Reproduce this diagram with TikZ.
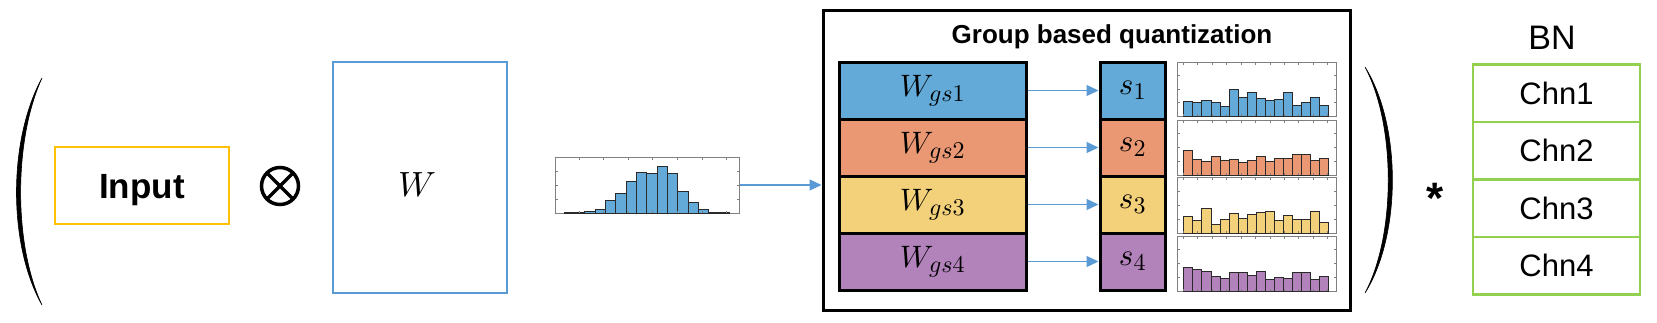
\documentclass[tikz,border=0pt]{standalone}
\usepackage[no-math]{fontspec}
\setmainfont{Liberation Sans}
\DeclareFontShape{OML}{cmm}{m}{it}{<->cmmi10}{}
\DeclareFontShape{OT1}{cmr}{m}{n}{<->cmr10}{}
\DeclareFontShape{OMS}{cmsy}{m}{n}{<->cmsy10}{}
\DeclareFontShape{OMX}{cmex}{m}{n}{<->cmex10}{}
\DeclareMathSizes{31}{31}{24}{18}
\usetikzlibrary{arrows.meta}
\definecolor{cblue}{HTML}{63AAD9}
\definecolor{corange}{HTML}{E99873}
\definecolor{cyellow}{HTML}{F3D07A}
\definecolor{cpurple}{HTML}{B282BA}
\definecolor{lineblue}{HTML}{5B9BD5}
\definecolor{inyellow}{HTML}{FFC000}
\definecolor{bngreen}{HTML}{92D050}
\definecolor{framegray}{HTML}{808080}
\definecolor{bardark}{HTML}{2A2A2A}
% #1 x of first bar, #2 bottom y, #3 bar width, #4 fill, #5 heights (x3)
\newcommand{\histbars}[5]{\foreach \h [count=\i from 0] in {#5} {\draw[barline, fill=#4] ({#1+\i*#3},#2) rectangle ++(#3,{-\h/3});}}
% #1 xl, #2 yt, #3 xr, #4 yb, #5 first tick x, #6 tick spacing, #7 last index
\newcommand{\histticks}[7]{%
 \foreach \k in {0,...,#7}{\draw[tickline] ({#5+\k*#6},#2) -- ++(0,2.5);\draw[tickline] ({#5+\k*#6},#4) -- ++(0,-2.5);}%
 \foreach \f in {0.25,0.5,0.75}{\draw[tickline] (#1,{#2+\f*(#4-#2)}) -- ++(2.5,0);\draw[tickline] (#3,{#2+\f*(#4-#2)}) -- ++(-2.5,0);}}
\tikzset{
 barline/.style={draw=bardark, line width=0.8pt},
 tickline/.style={draw=framegray, line width=0.7pt},
 histframe/.style={draw=framegray, line width=1pt, inner sep=0pt, minimum width=#1},
 arr/.style={draw=lineblue, line width=1.2pt, -{Triangle[length=12pt,width=11pt]}},
 rowbox/.style={draw=black, line width=3pt, inner sep=0pt, minimum height=57pt},
 bnbox/.style={draw=bngreen, line width=2.5pt, inner sep=0pt, minimum width=167pt, minimum height=57.5pt, font=\fontsize{31}{34}\selectfont},
 mathlab/.style={font=\fontsize{31}{34}\selectfont},
 paren/.style={fill=black, draw=black, line width=0.6pt},
}
\begin{document}
\begin{tikzpicture}[x=1pt, y=-1pt]
\useasboundingbox (0,0) rectangle (1657,322);
% left parenthesis
\fill[paren] (42,78) .. controls (8,140) and (8,245) .. (42,305) .. controls (13.5,245) and (13.5,140) .. (42,78) -- cycle;
% Input
\node[draw=inyellow, line width=2.5pt, minimum width=174pt, minimum height=77pt, inner sep=0pt, text height=25.5pt, text depth=0pt, font=\bfseries\fontsize{35}{40}\selectfont] (input) at (142,185.5) {Input};
% otimes
\node[circle, draw=black, line width=3.5pt, minimum size=37pt, inner sep=0pt, outer sep=0pt] (ot) at (280,186) {};
\draw[line width=3.5pt] (ot.north east) -- (ot.south west);
\draw[line width=3.5pt] (ot.north west) -- (ot.south east);
% W box
\node[draw=lineblue, line width=2.5pt, minimum width=174pt, minimum height=231pt, inner sep=0pt] (wbox) at (420,177.5) {};
\node[font=\fontsize{35}{38}\selectfont] (wlab) at (417,184.5) {$W$};
% big histogram
\node[histframe=184pt, minimum height=56pt] (h0) at (647,185) {};
\histbars{564}{213}{10.33}{cblue}{1,2,5,10,38,60,94,122,120,140,118,65,33,12,2,1}
\histticks{555}{157}{739}{213}{579}{24.6}{6}
% group box
\node[draw=black, line width=3pt, minimum width=527pt, minimum height=300pt, inner sep=0pt] (grp) at (1086.5,160) {};
\node[anchor=base, font=\bfseries\fontsize{26}{30}\selectfont] (title) at (1112,43) {Group based quantization};
\draw[arr] (h0.east) -- (h0.east -| grp.west);
% W_gs rows
\node[rowbox, fill=cblue, minimum width=187pt, mathlab] (wg1) at (932.5,90.5) {$W_{gs1}$};
\node[rowbox, fill=corange, minimum width=187pt, mathlab] (wg2) at (932.5,147.5) {$W_{gs2}$};
\node[rowbox, fill=cyellow, minimum width=187pt, mathlab] (wg3) at (932.5,204.5) {$W_{gs3}$};
\node[rowbox, fill=cpurple, minimum width=187pt, mathlab] (wg4) at (932.5,261.5) {$W_{gs4}$};
% s rows
\node[rowbox, fill=cblue, minimum width=65pt, mathlab] (s1) at (1132.5,90.5) {$s_1$};
\node[rowbox, fill=corange, minimum width=65pt, mathlab] (s2) at (1132.5,147.5) {$s_2$};
\node[rowbox, fill=cyellow, minimum width=65pt, mathlab] (s3) at (1132.5,204.5) {$s_3$};
\node[rowbox, fill=cpurple, minimum width=65pt, mathlab] (s4) at (1132.5,261.5) {$s_4$};
\draw[arr] (wg1.east) -- (s1.west);
\draw[arr] (wg2.east) -- (s2.west);
\draw[arr] (wg3.east) -- (s3.west);
\draw[arr] (wg4.east) -- (s4.west);
% small histograms
\node[histframe=159pt, minimum height=54pt] (hb1) at (1256.5,89) {};
\histbars{1183.7}{116}{9.07}{cblue}{45,41,47,41,28,80,56,70,53,46,50,70,33,41,56,33}
\histticks{1177}{62}{1336}{116}{1183.3}{14.43}{10}
\node[histframe=159pt, minimum height=55pt] (hb2) at (1256.5,147.5) {};
\histbars{1183.7}{175}{9.07}{corange}{73,47,40,56,45,47,38,44,56,42,49,51,62,62,45,50}
\histticks{1177}{120}{1336}{175}{1183.3}{14.43}{10}
\node[histframe=159pt, minimum height=56pt] (hb3) at (1256.5,205) {};
\histbars{1183.7}{233}{9.07}{cyellow}{49,37,73,27,40,59,45,56,61,64,39,52,42,42,65,33}
\histticks{1177}{177}{1336}{233}{1183.3}{14.43}{10}
\node[histframe=159pt, minimum height=55pt] (hb4) at (1256.5,263.5) {};
\histbars{1183.7}{291}{9.07}{cpurple}{71,65,58,45,37,56,56,48,59,36,40,38,56,56,36,45}
\histticks{1177}{236}{1336}{291}{1183.3}{14.43}{10}
% right parenthesis
\fill[paren] (1365,67) .. controls (1401.5,125) and (1401.5,235) .. (1365,293) .. controls (1396,235) and (1396,125) .. (1365,67) -- cycle;
% star
\node[anchor=base, font=\bfseries\fontsize{44}{48}\selectfont] (star) at (1435,213.5) {*};
% BN
\node[anchor=base, font=\fontsize{34}{38}\selectfont] (bn) at (1552,49.3) {BN};
\node[bnbox] (c1) at (1556.5,93) {Chn1};
\node[bnbox] (c2) at (1556.5,150.5) {Chn2};
\node[bnbox] (c3) at (1556.5,208) {Chn3};
\node[bnbox] (c4) at (1556.5,265.5) {Chn4};
\end{tikzpicture}
\end{document}
